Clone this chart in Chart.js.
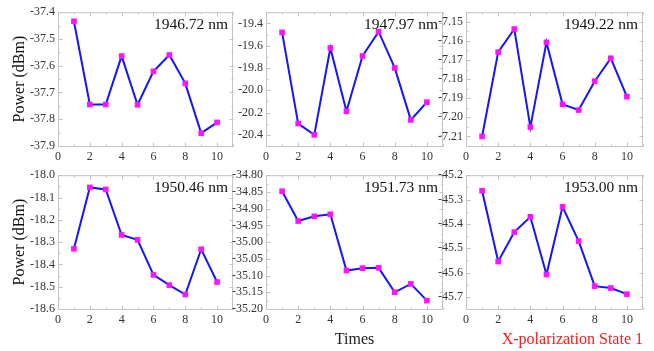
<!DOCTYPE html>
<html>
<head>
<meta charset="utf-8">
<script src="https://cdn.jsdelivr.net/npm/chart.js@4.4.0/dist/chart.umd.min.js"></script>
<style>
  html, body { margin: 0; padding: 0; background: #fff; width: 654px; height: 351px; overflow: hidden; }
  canvas { position: absolute; }
</style>
</head>
<body>
<canvas id="c1"></canvas>
<canvas id="c2"></canvas>
<canvas id="c3"></canvas>
<canvas id="c4"></canvas>
<canvas id="c5"></canvas>
<canvas id="c6"></canvas>
<script>
// measurement index (x axis)
const times = [1, 2, 3, 4, 5, 6, 7, 8, 9, 10];
const timeTicks = [0, 2, 4, 6, 8, 10];

// power readings in dBm, one array per wavelength
const power194672 = [-37.434, -37.745, -37.745, -37.564, -37.746, -37.621, -37.560, -37.666, -37.852, -37.812];
const power194797 = [-19.481, -20.299, -20.400, -19.621, -20.188, -19.693, -19.475, -19.800, -20.266, -20.107];
const power194922 = [-7.2100, -7.1659, -7.1538, -7.2051, -7.1608, -7.1932, -7.1962, -7.1811, -7.1691, -7.1892];
const power195046 = [-18.330, -18.055, -18.064, -18.268, -18.290, -18.447, -18.493, -18.535, -18.332, -18.479];
const power195173 = [-34.848, -34.937, -34.923, -34.917, -35.085, -35.078, -35.077, -35.150, -35.125, -35.175];
const power195300 = [-45.264, -45.555, -45.434, -45.371, -45.608, -45.330, -45.471, -45.656, -45.664, -45.689];

// y tick values per panel
const ticks194672 = [-37.9, -37.8, -37.7, -37.6, -37.5, -37.4];
const ticks194797 = [-20.4, -20.2, -20.0, -19.8, -19.6, -19.4];
const ticks194922 = [-7.21, -7.20, -7.19, -7.18, -7.17, -7.16, -7.15];
const ticks195046 = [-18.6, -18.5, -18.4, -18.3, -18.2, -18.1, -18.0];
const ticks195173 = [-35.20, -35.15, -35.10, -35.05, -35.00, -34.95, -34.90, -34.85, -34.80];
const ticks195300 = [-45.7, -45.6, -45.5, -45.4, -45.3, -45.2];

const SERIF = '"Liberation Serif", "DejaVu Serif", "Times New Roman", serif';

// plot frame rectangles on the page
const panels = [
  { id: 'c1', label: '1946.72 nm', data: power194672, ticks: ticks194672, min: -37.9, max: -37.4, dec: 1,
    box: [58, 12, 233, 146], yTitle: true },
  { id: 'c2', label: '1947.97 nm', data: power194797, ticks: ticks194797, min: -20.5, max: -19.3, dec: 1,
    box: [266, 12, 443, 146] },
  { id: 'c3', label: '1949.22 nm', data: power194922, ticks: ticks194922, min: -7.215, max: -7.145, dec: 2,
    box: [466, 12, 643, 146] },
  { id: 'c4', label: '1950.46 nm', data: power195046, ticks: ticks195046, min: -18.6, max: -18.0, dec: 1,
    box: [58, 175, 233, 309], yTitle: true },
  { id: 'c5', label: '1951.73 nm', data: power195173, ticks: ticks195173, min: -35.2, max: -34.8, dec: 2,
    box: [266, 175, 443, 309], xTitle: { text: 'Times', color: '#222', align: 'center' } },
  { id: 'c6', label: '1953.00 nm', data: power195300, ticks: ticks195300, min: -45.75, max: -45.2, dec: 1,
    box: [466, 175, 643, 309], xTitle: { text: 'X-polarization State 1', color: '#ff1a1a', align: 'end' } }
];

// frame with small inward ticks plus wavelength tag in the top-right corner
const framePlugin = {
  id: 'frame',
  beforeDatasetsDraw(chart, args, opts) {
    const { ctx, chartArea: a, scales } = chart;
    ctx.save();
    ctx.strokeStyle = '#c4c4c4';
    ctx.lineWidth = 1;
    ctx.strokeRect(a.left + 0.5, a.top + 0.5, a.right - a.left - 1, a.bottom - a.top);
    const mark = (x1, y1, x2, y2) => {
      ctx.beginPath();
      ctx.moveTo(Math.round(x1) + 0.5, Math.round(y1) + 0.5);
      ctx.lineTo(Math.round(x2) + 0.5, Math.round(y2) + 0.5);
      ctx.stroke();
    };
    const xs = scales.x, ys = scales.y;
    for (let v = xs.min; v <= xs.max; v += 1) {
      const px = xs.getPixelForValue(v);
      const len = v % 2 === 0 ? 4 : 2;
      mark(px, a.top, px, a.top + len);
      mark(px, a.bottom, px, a.bottom - len);
    }
    const tv = ys.ticks.map(t => t.value);
    const step = tv[1] - tv[0];
    const all = [];
    tv.forEach(v => all.push([v, 4]));
    for (let v = tv[0] - step / 2; v <= ys.max + 1e-9; v += step) {
      if (v >= ys.min - 1e-9) all.push([v, 2]);
    }
    all.forEach(([v, len]) => {
      const py = ys.getPixelForValue(v);
      mark(a.left, py, a.left + len, py);
      mark(a.right, py, a.right - len, py);
    });
    ctx.restore();
  },
  afterDatasetsDraw(chart, args, opts) {
    const { ctx, chartArea: a } = chart;
    ctx.save();
    ctx.font = '15.5px ' + SERIF;
    ctx.fillStyle = '#111';
    ctx.textAlign = 'right';
    ctx.textBaseline = 'alphabetic';
    ctx.fillText(opts.label, a.right - 5, a.top + 17);
    ctx.restore();
  }
};

panels.forEach(p => {
  const [l, t, r, b] = p.box;
  const leftW = p.yTitle ? l : 44;
  const padTop = 10, padRight = 10;
  const bottomH = t > 100 ? 351 - b : 22;
  const cw = leftW + (r - l) + padRight;
  const chh = padTop + (b - t) + bottomH;
  const cv = document.getElementById(p.id);
  cv.width = cw;
  cv.height = chh;
  cv.style.left = (l - leftW) + 'px';
  cv.style.top = (t - padTop) + 'px';
  cv.style.width = cw + 'px';
  cv.style.height = chh + 'px';

  new Chart(cv.getContext('2d'), {
    type: 'line',
    data: {
      labels: times,
      datasets: [{
        data: times.map((x, i) => ({ x, y: p.data[i] })),
        borderColor: '#1414ff',
        borderWidth: 2,
        pointStyle: 'rect',
        pointRadius: 4,
        pointBorderWidth: 0,
        pointBackgroundColor: '#ff14ff',
        pointBorderColor: '#ff14ff',
        tension: 0,
        clip: false
      }]
    },
    options: {
      responsive: false,
      animation: false,
      devicePixelRatio: 1,
      layout: { padding: { top: padTop, right: padRight, left: 0, bottom: 0 } },
      plugins: {
        legend: { display: false },
        tooltip: { enabled: false },
        frame: { label: p.label }
      },
      scales: {
        x: {
          type: 'linear',
          min: 0,
          max: 11,
          afterBuildTicks: s => { s.ticks = timeTicks.map(v => ({ value: v })); },
          afterFit: s => { s.height = bottomH; },
          grid: { display: false, drawTicks: false },
          border: { display: false },
          ticks: {
            autoSkip: false,
            maxRotation: 0,
            padding: 4,
            color: '#333',
            font: { family: SERIF, size: 12 }
          },
          title: p.xTitle ? {
            display: true,
            text: p.xTitle.text,
            align: p.xTitle.align,
            color: p.xTitle.color,
            font: { family: SERIF, size: 16 },
            padding: { top: 0, bottom: 2 }
          } : { display: false }
        },
        y: {
          type: 'linear',
          min: p.min,
          max: p.max,
          afterBuildTicks: s => { s.ticks = p.ticks.map(v => ({ value: v })); },
          afterFit: s => { s.width = leftW; },
          grid: { display: false, drawTicks: false },
          border: { display: false },
          ticks: {
            autoSkip: false,
            padding: 3,
            color: '#333',
            font: { family: SERIF, size: 12 },
            callback: v => Number(v).toFixed(p.dec)
          },
          title: p.yTitle ? {
            display: true,
            text: 'Power (dBm)',
            color: '#111',
            font: { family: SERIF, size: 16 },
            padding: { top: 10, bottom: 0 }
          } : { display: false }
        }
      }
    },
    plugins: [framePlugin]
  });
});
</script>
</body>
</html>
